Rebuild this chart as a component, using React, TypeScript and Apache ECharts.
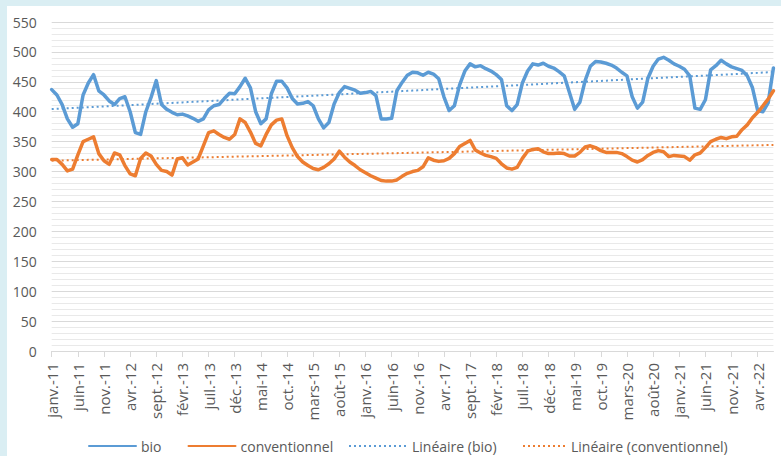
import React, { useEffect, useRef } from "react";
import * as echarts from "echarts";

// Month labels (French Excel abbreviations), series starts janv.-11
const monthNames = ["janv.", "févr.", "mars", "avr.", "mai", "juin", "juil.", "août", "sept.", "oct.", "nov.", "déc."];
const startYear = 2011;

const seriesNames = ["bio", "conventionnel", "Linéaire (bio)", "Linéaire (conventionnel)"];

// Monthly values (janv.-11 .. juil.-22)
const bio = [
  437, 428, 412, 388, 374, 380, 428, 448, 462, 435, 428, 418,
  412, 422, 425, 400, 365, 362, 400, 424, 452, 412, 404, 399,
  395, 396, 393, 389, 384, 388, 403, 410, 412, 422, 431, 430,
  442, 456, 440, 400, 380, 388, 430, 451, 451, 440, 422, 413,
  414, 417, 410, 388, 373, 382, 413, 432, 442, 439, 436, 431,
  432, 434, 427, 388, 388, 389, 435, 449, 461, 466, 465, 461,
  466, 463, 455, 425, 402, 410, 445, 468, 480, 475, 477, 472,
  468, 462, 454, 410, 402, 412, 448, 468, 480, 478, 481, 476,
  473, 467, 460, 432, 404, 416, 452, 476, 484, 483, 481, 478,
  473, 466, 460, 425, 406, 416, 456, 476, 488, 491, 486, 480,
  476, 471, 460, 406, 404, 420, 470, 477, 486, 480, 475, 472,
  469, 460, 440, 402, 400, 415, 473,
];

const conventionnel = [
  320, 320, 312, 301, 304, 328, 350, 354, 358, 330, 318, 312,
  331, 328, 310, 296, 293, 322, 331, 326, 312, 302, 300, 294,
  321, 323, 311, 316, 321, 343, 365, 368, 362, 357, 354, 362,
  388, 382, 366, 347, 343, 362, 378, 386, 388, 360, 340, 325,
  316, 310, 305, 303, 307, 313, 321, 334, 324, 316, 310, 303,
  298, 293, 289, 285, 284, 284, 286, 292, 297, 300, 302, 308,
  323, 319, 317, 318, 322, 330, 342, 347, 352, 336, 331, 327,
  325, 322, 313, 306, 304, 307, 322, 334, 337, 338, 333, 330,
  330, 331, 330, 326, 326, 332, 341, 343, 340, 335, 332, 332,
  332, 330, 325, 319, 316, 320, 327, 332, 335, 333, 325, 327,
  326, 325, 319, 328, 331, 340, 350, 354, 357, 355, 358, 359,
  370, 378, 390, 399, 410, 421, 435,
];

const yMin = 0;
const yMax = 550;
const yInterval = 50;

const categories = bio.map((_, i) => {
  const yy = (startYear + Math.floor(i / 12)) % 100;
  return `${monthNames[i % 12]}-${String(yy).padStart(2, "0")}`;
});

// Excel "Linéaire" trendline = least-squares fit of the series
function linearTrend(values: number[]): number[] {
  const n = values.length;
  let sx = 0, sy = 0, sxx = 0, sxy = 0;
  values.forEach((y, x) => {
    sx += x; sy += y; sxx += x * x; sxy += x * y;
  });
  const b = (n * sxy - sx * sy) / (n * sxx - sx * sx);
  const a = (sy - b * sx) / n;
  return values.map((_, x) => Math.round((a + b * x) * 100) / 100);
}

const BLUE = "#5b9bd5";
const ORANGE = "#ed7d31";
const TEXT = "#595959";
const FONT = "Open Sans";

const legendBase = {
  top: 428,
  itemHeight: 14,
  itemGap: 26,
  textStyle: { color: TEXT, fontSize: 14, fontFamily: FONT },
};

export default function App() {
  const ref = useRef<HTMLDivElement>(null);

  useEffect(() => {
    if (!ref.current) return;
    const chart = echarts.init(ref.current, null, { renderer: "svg" });
    const option = {
      animation: false,
      backgroundColor: "#ffffff",
      textStyle: { fontFamily: FONT },
      grid: { left: 44.7, right: 7.6, top: 16, bottom: 105 },
      legend: [
        {
          ...legendBase,
          left: 76,
          itemWidth: 47,
          data: seriesNames.slice(0, 2).map((n) => ({ name: n, itemStyle: { opacity: 0 } })),
        },
        {
          ...legendBase,
          left: 336,
          itemWidth: 58,
          data: [{ name: seriesNames[2], itemStyle: { opacity: 0 } }],
        },
        {
          ...legendBase,
          left: 510,
          itemWidth: 43,
          data: [{ name: seriesNames[3], itemStyle: { opacity: 0 } }],
        },
      ],
      xAxis: {
        type: "category",
        data: categories,
        boundaryGap: false,
        axisLine: { show: true, lineStyle: { color: "#d9d9d9", width: 1 } },
        axisTick: { show: true, interval: 4, length: 6, lineStyle: { color: "#d9d9d9" } },
        axisLabel: { interval: 4, rotate: 90, color: TEXT, fontSize: 15, margin: 12, fontFamily: FONT },
        splitLine: { show: false },
      },
      yAxis: {
        type: "value",
        min: yMin,
        max: yMax,
        interval: yInterval,
        axisLine: { show: false },
        axisTick: { show: false },
        axisLabel: { color: TEXT, fontSize: 14, margin: 15, fontFamily: FONT },
        splitLine: { show: true, lineStyle: { color: "#d9d9d9", width: 1 } },
        minorTick: { show: false, splitNumber: 5 },
        minorSplitLine: { show: true, lineStyle: { color: "#e9e9e9", width: 1 } },
      },
      series: [
        {
          name: seriesNames[0],
          type: "line",
          data: bio,
          symbol: "none",
          lineStyle: { color: BLUE, width: 3.5, cap: "round", join: "round" },
          itemStyle: { color: BLUE },
          z: 2,
        },
        {
          name: seriesNames[1],
          type: "line",
          data: conventionnel,
          symbol: "none",
          lineStyle: { color: ORANGE, width: 3.5, cap: "round", join: "round" },
          itemStyle: { color: ORANGE },
          z: 2,
        },
        {
          name: seriesNames[2],
          type: "line",
          data: linearTrend(bio),
          symbol: "none",
          lineStyle: { color: BLUE, width: 2, type: [2, 3] },
          itemStyle: { color: BLUE },
          z: 3,
        },
        {
          name: seriesNames[3],
          type: "line",
          data: linearTrend(conventionnel),
          symbol: "none",
          lineStyle: { color: ORANGE, width: 2, type: [2, 3] },
          itemStyle: { color: ORANGE },
          z: 3,
        },
      ],
    };
    chart.setOption(option as any);
    return () => chart.dispose();
  }, []);

  return (
    <div style={{ position: "fixed", left: 0, top: 0, width: 781, height: 456, background: "#daeef3" }}>
      <div ref={ref} style={{ position: "absolute", left: 7, top: 6, width: 774, height: 450 }} />
    </div>
  );
}
